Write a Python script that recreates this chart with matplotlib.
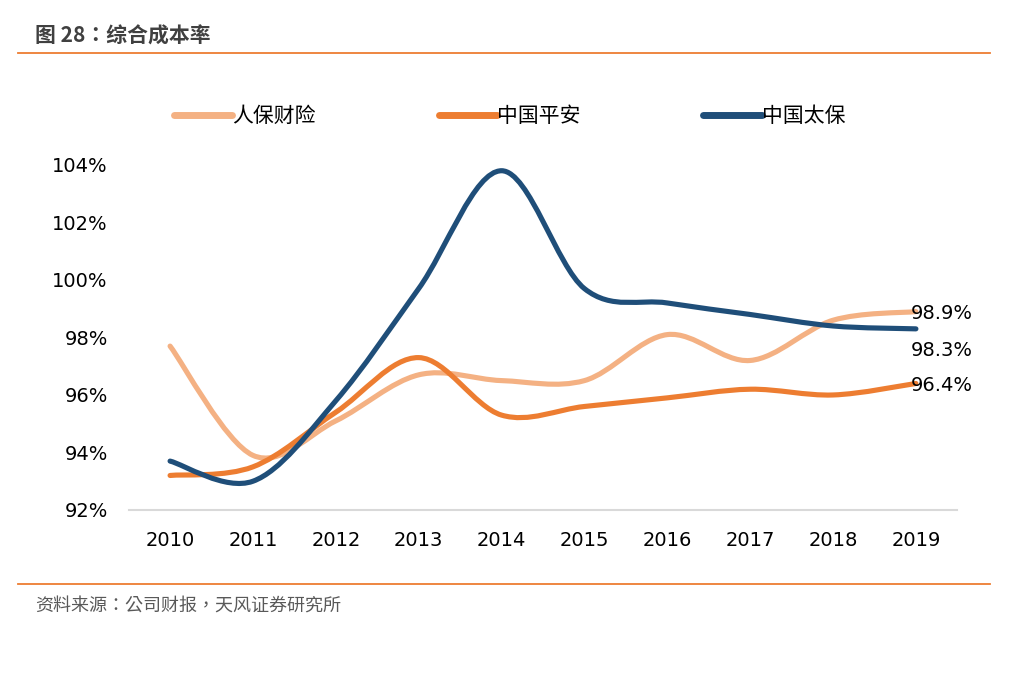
import matplotlib
matplotlib.use("Agg")
import matplotlib.pyplot as plt
from matplotlib.path import Path
from matplotlib.patches import PathPatch
from matplotlib.lines import Line2D
import numpy as np

plt.rcParams['font.family'] = ['DejaVu Sans', 'Noto Sans CJK SC']

years = ['2010', '2011', '2012', '2013', '2014', '2015', '2016', '2017', '2018', '2019']
picc = [97.7, 93.9, 95.1, 96.7, 96.5, 96.5, 98.1, 97.2, 98.6, 98.9]
pingan = [93.2, 93.5, 95.4, 97.3, 95.3, 95.6, 95.9, 96.2, 96.0, 96.4]
cpic = [93.7, 93.0, 95.8, 99.7, 103.8, 99.7, 99.2, 98.8, 98.4, 98.3]
series_names = ['人保财险', '中国平安', '中国太保']
colors = ['#F4B183', '#ED7D31', '#1F4E79']
yticks = [92, 94, 96, 98, 100, 102, 104]

fig = plt.figure(figsize=(10.25, 6.86), dpi=100)
ax = fig.add_axes([0.1255, 0.2566, 0.8085, 0.5029])


def smooth_path(xs, ys):
    pts = np.column_stack([xs, ys]).astype(float)
    n = len(pts)
    verts = [pts[0]]
    codes = [Path.MOVETO]
    for i in range(n - 1):
        p0 = pts[i - 1] if i > 0 else pts[i]
        p1 = pts[i]
        p2 = pts[i + 1]
        p3 = pts[i + 2] if i + 2 < n else pts[i + 1]
        c1 = p1 + (p2 - p0) / 6.0
        c2 = p2 - (p3 - p1) / 6.0
        verts += [c1, c2, p2]
        codes += [Path.CURVE4] * 3
    return Path(verts, codes)


x = np.arange(len(years))
for vals, col in zip([picc, pingan, cpic], colors):
    patch = PathPatch(smooth_path(x, vals), fill=False, edgecolor=col, lw=3.7,
                      capstyle='round', joinstyle='round', transform=ax.transData)
    ax.add_patch(patch)

ax.set_xlim(-0.5, len(years) - 0.5)
ax.set_ylim(92, 104)
ax.set_xticks(x)
ax.set_xticklabels(years, fontsize=14)
ax.set_yticks(yticks)
ax.set_yticklabels([f'{v}%' for v in yticks], fontsize=14)
ax.tick_params(axis='both', length=0, colors='#000000')
ax.tick_params(axis='x', pad=15)
ax.tick_params(axis='y', pad=15)
for s in ['top', 'right', 'left']:
    ax.spines[s].set_visible(False)
ax.spines['bottom'].set_color('#D9D9D9')
ax.spines['bottom'].set_linewidth(1.5)

# end labels
ax.annotate(f'{picc[-1]}%', (x[-1], picc[-1]), xytext=(-4, -1.5), textcoords='offset points',
            fontsize=14, va='center', ha='left')
ax.annotate(f'{cpic[-1]}%', (x[-1], cpic[-1]), xytext=(-4, -15.5), textcoords='offset points',
            fontsize=14, va='center', ha='left')
ax.annotate(f'{pingan[-1]}%', (x[-1], pingan[-1]), xytext=(-4, -1.5), textcoords='offset points',
            fontsize=14, va='center', ha='left')

handles = [Line2D([0], [0], color=c, lw=5, solid_capstyle='round') for c in colors]
leg = fig.legend(handles, series_names, loc='center', bbox_to_anchor=(0.497, 1 - 116 / 686), ncol=3,
                 frameon=False, handlelength=2.8, handletextpad=0.0,
                 columnspacing=5.9, prop={'family': ['Noto Sans CJK SC'], 'size': 15})

# title and decorations
fig.text(35 / 1025, 1 - 36 / 686, '图 28：综合成本率', fontsize=15, fontweight='bold',
         color='#404040', va='center', ha='left', family=['Noto Sans CJK TC'])
fig.add_artist(Line2D([18 / 1025, 990 / 1025], [1 - 53 / 686, 1 - 53 / 686],
                      color='#ED7D31', lw=1.3))
fig.add_artist(Line2D([18 / 1025, 990 / 1025], [1 - 584 / 686, 1 - 584 / 686],
                      color='#ED7D31', lw=1.3))
fig.text(35 / 1025, 1 - 607 / 686, '资料来源：公司财报，天风证券研究所', fontsize=13,
         color='#595959', va='center', ha='left', family=['Noto Sans CJK TC'])

fig.savefig('out.png', dpi=100)
